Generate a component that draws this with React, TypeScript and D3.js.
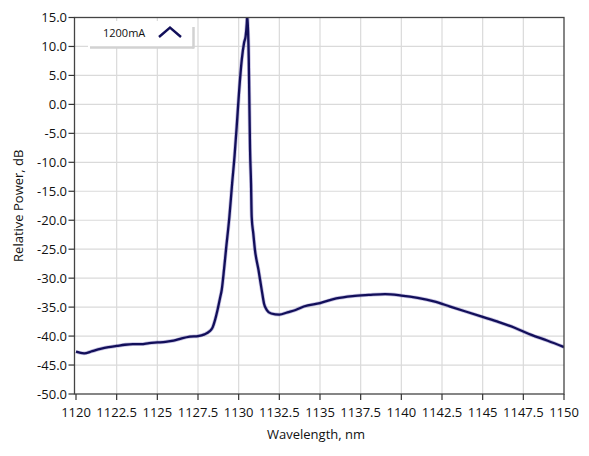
import { useEffect, useRef } from 'react';
import * as d3 from 'd3';

// spectrum
const wavelength = [
  1120.0, 1120.5, 1121.0, 1121.5, 1122.0, 1122.5, 1123.0, 1123.5, 1124.0, 1124.5,
  1125.0, 1125.5, 1126.0, 1126.5, 1127.0, 1127.5, 1127.9, 1128.2, 1128.4, 1128.55,
  1128.7, 1128.85, 1128.96, 1129.1, 1129.22, 1129.43, 1129.6, 1129.75, 1129.88, 1130.02,
  1130.19, 1130.33, 1130.43, 1130.5, 1130.53, 1130.58, 1130.62, 1130.65, 1130.7, 1130.76,
  1130.8, 1130.9, 1131.0, 1131.22, 1131.42, 1131.56, 1131.73, 1132.0, 1132.5, 1133.0,
  1133.5, 1134.0, 1135.0, 1136.0, 1137.0, 1138.0, 1139.0, 1140.0, 1141.0, 1142.0,
  1143.0, 1144.0, 1145.0, 1146.0, 1147.0, 1148.0, 1149.0, 1150.0,
];
const power = [
  -42.7, -43.0, -42.6, -42.2, -41.9, -41.7, -41.5, -41.4, -41.4, -41.2,
  -41.1, -41.0, -40.8, -40.4, -40.1, -40.0, -39.7, -39.2, -38.5, -37.2,
  -35.5, -33.5, -32.0, -28.5, -25.1, -19.4, -13.6, -8.8, -3.8, 2.0,
  7.7, 10.6, 11.8, 14.0, 15.5, 12.5, 8.0, 2.0, -7.8, -13.6,
  -19.4, -22.3, -25.1, -28.6, -32.1, -34.4, -35.5, -36.1, -36.3, -35.9,
  -35.5, -34.9, -34.3, -33.5, -33.1, -32.9, -32.75, -33.0, -33.4, -34.0,
  -34.9, -35.8, -36.7, -37.6, -38.6, -39.8, -40.8, -41.9,
];

const xTicks = [1120, 1122.5, 1125, 1127.5, 1130, 1132.5, 1135, 1137.5, 1140, 1142.5, 1145, 1147.5, 1150];
const yTicks = [15, 10, 5, 0, -5, -10, -15, -20, -25, -30, -35, -40, -45, -50];
const seriesName = '1200mA';

const W = 589;
const H = 456;
const FONT = '"Open Sans", "Noto Sans", sans-serif';
const LINE = '#120f5a';

export default function App() {
  const svgRef = useRef<SVGSVGElement>(null);

  useEffect(() => {
    const svg = d3.select(svgRef.current);
    svg.selectAll('*').remove();

    const left = 74.5;
    const right = 564;
    const top = 17.5;
    const bottom = 394;

    const x = d3.scaleLinear().domain([1120, 1150]).range([76, 564]);
    const y = d3.scaleLinear().domain([-50, 15]).range([bottom, top]);

    svg.append('rect').attr('width', W).attr('height', H).attr('fill', '#fff');

    // grid
    const grid = svg.append('g');
    grid.selectAll('.vg')
      .data(xTicks.slice(1, -1))
      .join('line')
      .attr('x1', d => x(d)).attr('x2', d => x(d))
      .attr('y1', top).attr('y2', bottom)
      .attr('stroke', '#dadada').attr('stroke-width', 1.2);
    grid.selectAll('.hg')
      .data(yTicks.slice(1, -1))
      .join('line')
      .attr('x1', left).attr('x2', right)
      .attr('y1', d => y(d)).attr('y2', d => y(d))
      .attr('stroke', '#dadada').attr('stroke-width', 1.2);

    // data
    svg.append('clipPath').attr('id', 'plot-clip')
      .append('rect')
      .attr('x', left).attr('y', top)
      .attr('width', right - left).attr('height', bottom - top);

    const pts: [number, number][] = wavelength.map((w, i) => [w, power[i]]);
    const line = d3.line<[number, number]>()
      .x(d => x(d[0]))
      .y(d => y(d[1]))
      .curve(d3.curveMonotoneX);

    const plot = svg.append('g').attr('clip-path', 'url(#plot-clip)');
    plot.append('path')
      .attr('d', line(pts))
      .attr('fill', 'none')
      .attr('stroke', '#6b5fb5')
      .attr('stroke-opacity', 0.4)
      .attr('stroke-width', 3.8)
      .attr('stroke-linejoin', 'round');
    plot.append('path')
      .attr('d', line(pts))
      .attr('fill', 'none')
      .attr('stroke', LINE)
      .attr('stroke-width', 2.3)
      .attr('stroke-linejoin', 'round');

    // frame
    svg.append('rect')
      .attr('x', left).attr('y', top)
      .attr('width', right - left).attr('height', bottom - top)
      .attr('fill', 'none')
      .attr('stroke', '#444').attr('stroke-width', 1.3);

    // y axis
    const yAxis = svg.append('g');
    yAxis.selectAll('line')
      .data(yTicks)
      .join('line')
      .attr('x1', left - 6).attr('x2', left)
      .attr('y1', d => y(d)).attr('y2', d => y(d))
      .attr('stroke', '#333').attr('stroke-width', 1.2);
    yAxis.selectAll('text')
      .data(yTicks)
      .join('text')
      .attr('x', left - 7.5)
      .attr('y', d => y(d))
      .attr('dy', '0.35em')
      .attr('text-anchor', 'end')
      .attr('font-family', FONT)
      .attr('font-size', 13)
      .attr('fill', '#111')
      .text(d => d.toFixed(1));

    // x axis
    const xAxis = svg.append('g');
    xAxis.selectAll('line')
      .data(xTicks)
      .join('line')
      .attr('x1', d => x(d)).attr('x2', d => x(d))
      .attr('y1', bottom).attr('y2', bottom + 6)
      .attr('stroke', '#333').attr('stroke-width', 1.2);
    xAxis.selectAll('text')
      .data(xTicks)
      .join('text')
      .attr('x', d => x(d))
      .attr('y', 417)
      .attr('text-anchor', 'middle')
      .attr('font-family', FONT)
      .attr('font-size', 13)
      .attr('fill', '#111')
      .text(d => String(d));

    // axis titles
    svg.append('text')
      .attr('x', 316).attr('y', 439)
      .attr('text-anchor', 'middle')
      .attr('font-family', FONT).attr('font-size', 13)
      .attr('fill', '#111')
      .text('Wavelength, nm');
    svg.append('text')
      .attr('transform', `translate(23, ${(top + bottom) / 2}) rotate(-90)`)
      .attr('text-anchor', 'middle')
      .attr('font-family', FONT).attr('font-size', 13)
      .attr('fill', '#111')
      .text('Relative Power, dB');

    // legend
    const lg = svg.append('g');
    lg.append('rect')
      .attr('x', 88).attr('y', 21).attr('width', 104).attr('height', 26)
      .attr('fill', '#fff');
    lg.append('line')
      .attr('x1', 90).attr('x2', 194).attr('y1', 47.5).attr('y2', 47.5)
      .attr('stroke', '#d2d2d2').attr('stroke-width', 2.5);
    lg.append('line')
      .attr('x1', 193.5).attr('x2', 193.5).attr('y1', 27).attr('y2', 48.5)
      .attr('stroke', '#d2d2d2').attr('stroke-width', 2.5);
    lg.append('text')
      .attr('x', 103).attr('y', 37)
      .attr('font-family', FONT).attr('font-size', 11)
      .attr('fill', '#111')
      .text(seriesName);
    lg.append('path')
      .attr('d', 'M159,37 L170,27.5 L181,37')
      .attr('fill', 'none')
      .attr('stroke', LINE).attr('stroke-width', 2.4);
  }, []);

  return (
    <svg
      ref={svgRef}
      width={W}
      height={H}
      viewBox={`0 0 ${W} ${H}`}
      style={{ position: 'absolute', left: 0, top: 0 }}
    />
  );
}
